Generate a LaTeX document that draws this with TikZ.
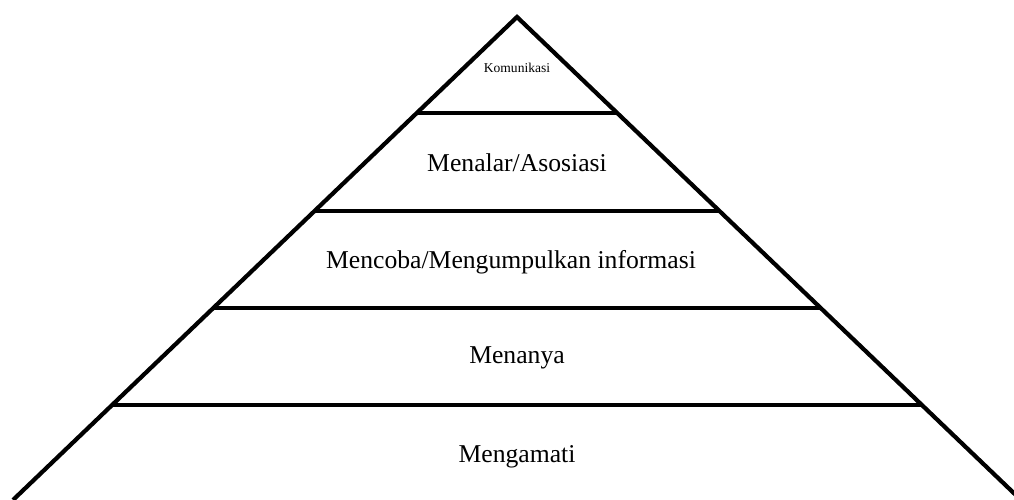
\documentclass[tikz,border=0pt]{standalone}
\usepackage{fontspec}
\setmainfont{Liberation Serif}
\usetikzlibrary{calc}

\begin{document}
\begin{tikzpicture}
            \useasboundingbox (0,0) rectangle (20.28,10);
            \coordinate (A) at (10.34,9.66);
            \coordinate (L) at (0.26,0);
            \coordinate (R) at (20.42,0);

            \draw[line width=2.4pt] (L) -- (A) -- (R);

            \foreach \t/\n in {0.199/a, 0.402/b, 0.603/c, 0.804/d} {
                \coordinate (l\n) at ($(A)!\t!(L)$);
                \coordinate (r\n) at ($(A)!\t!(R)$);
                \draw[line width=2.4pt] (l\n) -- (r\n);
            }

            \node[font=\fontsize{7.7}{9}\selectfont] (komunikasi) at (10.34,8.64) {Komunikasi};
            \node[font=\fontsize{14.6}{17}\selectfont] (menalar) at (10.34,6.74) {Menalar/Asosiasi};
            \node[font=\fontsize{14.6}{17}\selectfont] (mencoba) at (10.22,4.76) {Mencoba/Mengumpulkan informasi};
            \node[font=\fontsize{14.6}{17}\selectfont] (menanya) at (10.34,2.84) {Menanya};
            \node[font=\fontsize{14.6}{17}\selectfont] (mengamati) at (10.34,0.86) {Mengamati};
        \end{tikzpicture}
\end{document}
